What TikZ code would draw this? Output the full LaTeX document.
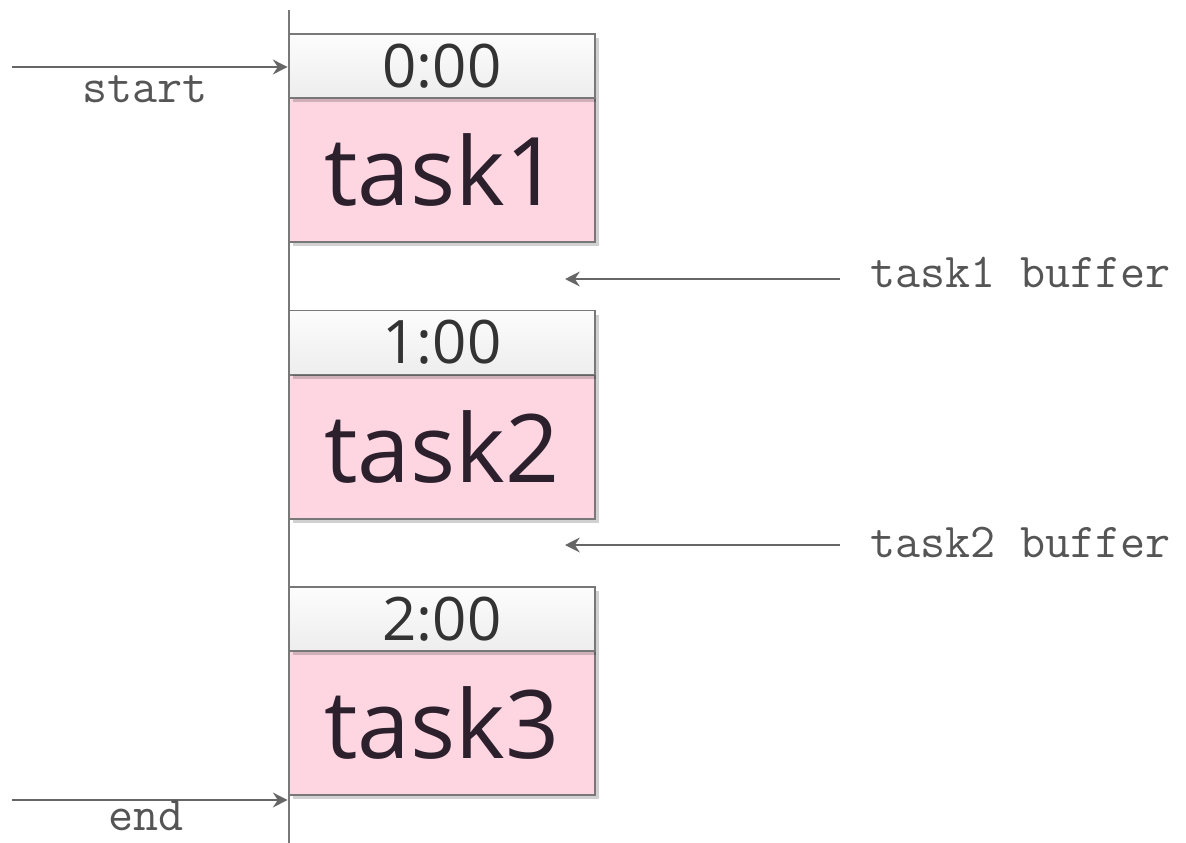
\documentclass[tikz,border=0pt]{standalone}
\usepackage{fontspec}
\newfontfamily\boxfont{Open Sans}
\usetikzlibrary{arrows.meta,shadows}
\definecolor{pinkfill}{RGB}{253,214,225}
\definecolor{edge}{RGB}{120,120,120}
\definecolor{lbl}{RGB}{85,85,85}
\definecolor{tasktxt}{RGB}{45,32,45}
\tikzset{
  hdr/.style={draw=edge, line width=1.2pt, top color=gray!2, bottom color=gray!14,
    minimum width=229.5pt, minimum height=48pt, inner sep=0pt,
    font=\boxfont\fontsize{45}{48}\selectfont, text=black!80,
    drop shadow={shadow xshift=3pt, shadow yshift=-3pt, opacity=0.18, fill=black}},
  taskbox/.style={draw=edge, line width=1.2pt, fill=pinkfill,
    minimum width=229.5pt, minimum height=108pt, inner sep=0pt,
    font=\boxfont\fontsize{71}{76}\selectfont, text=tasktxt,
    drop shadow={shadow xshift=3pt, shadow yshift=-3pt, opacity=0.18, fill=black}},
  ttl/.style={font=\ttfamily\fontsize{36.5}{40}\selectfont, text=lbl, inner sep=0pt},
  arr/.style={draw=edge!85!black, line width=1.8pt, -{Stealth[length=11pt,width=11pt]}},
  axis/.style={draw=edge, line width=1.6pt}
}
\begin{document}
\begin{tikzpicture}[x=0.75pt,y=-0.75pt]
\useasboundingbox (0,0) rectangle (1186,843);
% boxes
\node[taskbox] (t1) at (442,170) {\raisebox{-0.12em}{task1}};
\node[hdr] (h1) at (442,66) {0:00};
\node[taskbox] (t2) at (442,447) {\raisebox{-0.12em}{task2}};
\node[hdr] (h2) at (442,342.5) {1:00};
\node[taskbox] (t3) at (442,723) {\raisebox{-0.12em}{task3}};
\node[hdr] (h3) at (442,619) {2:00};
% time axis
\coordinate (vtop) at (289,10);
\coordinate (vbot) at (289,843);
\draw[axis] (vtop) -- (vbot);
% start / end
\coordinate (s0) at (12,67);
\coordinate (e0) at (12,800);
\draw[arr] (s0) -- ([xshift=-1pt]vtop |- s0);
\draw[arr] (e0) -- ([xshift=-1pt]vtop |- e0);
\node[ttl] (startlbl) at (145,89) {start};
\node[ttl] (endlbl) at (146,816) {end};
% buffers
\node[ttl, anchor=west] (b1) at (870,272) {task1 buffer};
\node[ttl, anchor=west] (b2) at (870,542) {task2 buffer};
\coordinate (b1s) at (840,279);
\coordinate (b1e) at (565,279);
\coordinate (b2s) at (840,545);
\coordinate (b2e) at (565,545);
\draw[arr] (b1s) -- (b1e);
\draw[arr] (b2s) -- (b2e);
\end{tikzpicture}
\end{document}
